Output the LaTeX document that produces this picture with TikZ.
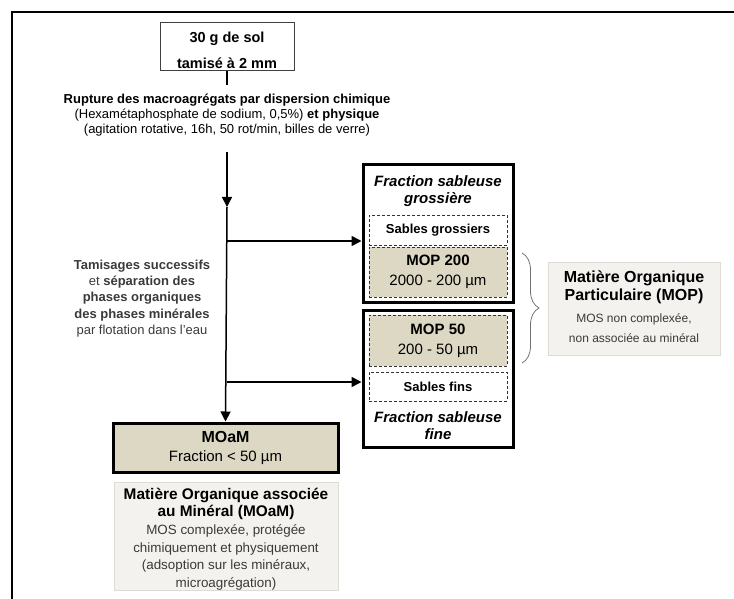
\documentclass[tikz,border=0pt]{standalone}
\usepackage{fontspec}
\setmainfont{Liberation Sans}
\usetikzlibrary{arrows.meta, positioning, decorations.pathreplacing}
\definecolor{sand}{HTML}{DDD8C4}
\definecolor{paper}{HTML}{F4F2EE}
\definecolor{paperline}{HTML}{DEDBD5}
\definecolor{ink}{HTML}{3A3A3A}

\begin{document}
\begin{tikzpicture}[x=1pt, y=-1pt, >={Triangle[length=10pt, width=10pt]}]
    \tikzstyle{soilbox} = [draw=black!75, line width=1pt, minimum width=134pt,
	minimum height=48pt, inner sep=0pt]
    \tikzstyle{fracbox} = [draw=black, line width=3pt, minimum width=150pt,
	minimum height=137pt, inner sep=0pt]
    \tikzstyle{sandbox} = [draw=black!80, dashed, line width=0.8pt, dash pattern=on 3pt off 2pt,
	minimum width=138pt, inner sep=0pt, align=center]
    \tikzstyle{infobox} = [draw=paperline, fill=paper, line width=0.8pt, inner sep=0pt]
    \tikzstyle{txt} = [inner sep=0pt, align=center]
    \tikzstyle{flow} = [line width=1.5pt]

	\useasboundingbox (0,0) rectangle (734,599);
	\draw[line width=2pt] (12,599) -- (12,12) -- (734,12);

	% top of the protocol
	\path
		node[soilbox] (soil) at (227,47) {}
		node[txt, font=\fontsize{14.5}{26}\selectfont\bfseries] (soiltext) at (227,50)
			{30 g de sol\\tamisé à 2 mm}
		node[txt, font=\fontsize{13}{15}\selectfont] (rupture) at (227,115)
			{\textbf{Rupture des macroagrégats par dispersion chimique}\\
			(Hexamétaphosphate de sodium, 0,5\%) \textbf{et physique}\\
			(agitation rotative, 16h, 50 rot/min, billes de verre)}
		node[txt, text=ink, font=\fontsize{13}{16.3}\selectfont] (sieving) at (142,298.5)
			{\textbf{Tamisages successifs}\\
			et \textbf{séparation des}\\
			\textbf{phases organiques}\\
			\textbf{des phases minérales}\\
			par flotation dans l'eau}
	;

	% sand fractions
	\path
		node[fracbox] (coarse) at (438,233.5) {}
		node[txt, font=\fontsize{15}{17}\selectfont\bfseries\itshape] (coarsetitle) at (438,191.5)
			{Fraction sableuse\\grossière}
		node[sandbox, fill=white, minimum height=30pt, font=\fontsize{13}{15}\selectfont\bfseries]
			(sgros) at (438,230) {Sables grossiers}
		node[sandbox, fill=sand, minimum height=50pt, font=\fontsize{15}{20}\selectfont]
			(mop200) at (438,272) {\textbf{MOP 200}\\2000 - 200 µm}

		node[fracbox] (fine) at (438,378.5) {}
		node[sandbox, fill=sand, minimum height=51pt, font=\fontsize{15}{20}\selectfont]
			(mop50) at (438,340.5) {\textbf{MOP 50}\\200 - 50 µm}
		node[sandbox, fill=white, minimum height=29pt, font=\fontsize{13}{15}\selectfont\bfseries]
			(sfins) at (438,386.5) {Sables fins}
		node[txt, font=\fontsize{15}{17}\selectfont\bfseries\itshape] (finetitle) at (438,425.5)
			{Fraction sableuse\\fine}
	;

	% particulate organic matter
	\path
		node[infobox, minimum width=172pt, minimum height=93pt] (mopinfo) at (634,308.5) {}
		node[txt, font=\fontsize{16}{18}\selectfont\bfseries] (moptitle) at (634,287)
			{Matière Organique\\Particulaire (MOP)}
		node[txt, text=ink, font=\fontsize{12}{20}\selectfont] (mopbody) at (634,328)
			{MOS non complexée,\\non associée au minéral}
	;

	% mineral-associated organic matter
	\path
		node[draw=black, line width=3pt, fill=sand, minimum width=225pt, minimum height=49pt,
			inner sep=0pt, align=center, font=\fontsize{15}{19}\selectfont] (moam) at (225.5,447.5)
			{{\fontsize{16}{19}\selectfont\bfseries MOaM}\\Fraction < 50 µm}
		node[infobox, minimum width=224pt, minimum height=108pt] (moaminfo) at (226,536) {}
		node[txt, font=\fontsize{15.4}{17}\selectfont\bfseries] (moamtitle) at (226,503.5)
			{Matière Organique associée\\au Minéral (MOaM)}
		node[txt, text=ink, font=\fontsize{13.4}{17.7}\selectfont] (moambody) at (226,557.5)
			{MOS complexée, protégée\\chimiquement et physiquement\\
			(adsoption sur les minéraux,\\microagrégation)}
	;

	% connectors
	\coordinate (r1) at (227,85);
	\coordinate (r2) at (227,152);
	\coordinate (mid) at (227,207);
	\coordinate (b1) at (227,241);
	\coordinate (b2) at (227,382);
	\draw[flow] (soil.south) -- (r1);
	\draw[flow, ->] (r2) -- (mid);
	\draw[flow, ->] (mid) -- (moam.north);
	\draw[flow, ->] (b1) -- (b1 -| coarse.west);
	\draw[flow, ->] (b2) -- (b2 -| fine.west);

	\coordinate (bt) at (522,253);
	\coordinate (bb) at (522,363);
	\draw[black!55, line width=0.8pt, decorate, decoration={brace, amplitude=17pt}] (bt) -- (bb);
\end{tikzpicture}
\end{document}
